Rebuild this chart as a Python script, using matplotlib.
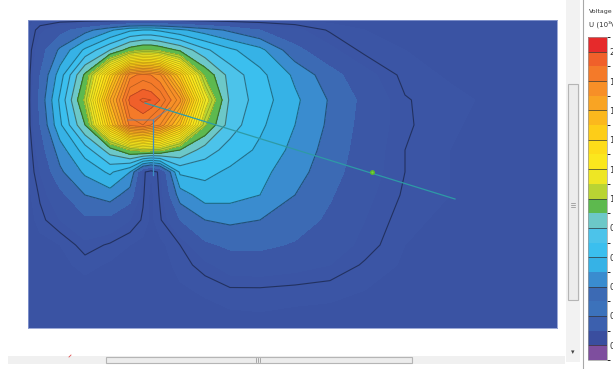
import numpy as np
import matplotlib
matplotlib.use("Agg")
import matplotlib.pyplot as plt
from matplotlib.patches import Rectangle
from matplotlib.lines import Line2D

# grid node positions (horizontal distance, depth)
x_pos = [0, 12, 32, 57, 82, 102, 115, 123, 132, 152, 177, 202, 232, 267, 302, 337, 377, 422, 472, 529]
y_pos = [0, 10, 30, 55, 80, 105, 130, 152, 175, 200, 225, 245, 270, 308]

# voltage at the nodes, one list per depth row
u_rows = [
    [0.09, 0.11, 0.12, 0.12, 0.12, 0.13, 0.13, 0.13, 0.13, 0.13, 0.12, 0.11, 0.10, 0.09, 0.08, 0.07, 0.06, 0.05, 0.04, 0.04],
    [0.10, 0.18, 0.26, 0.36, 0.48, 0.58, 0.60, 0.60, 0.58, 0.52, 0.45, 0.38, 0.30, 0.22, 0.14, 0.10, 0.08, 0.06, 0.05, 0.04],
    [0.11, 0.25, 0.42, 0.62, 0.80, 0.95, 1.00, 1.00, 0.97, 0.88, 0.72, 0.62, 0.53, 0.33, 0.22, 0.13, 0.10, 0.07, 0.05, 0.04],
    [0.12, 0.30, 0.55, 0.92, 1.40, 1.78, 1.82, 1.80, 1.76, 1.45, 0.98, 0.76, 0.63, 0.48, 0.34, 0.23, 0.13, 0.09, 0.06, 0.04],
    [0.12, 0.33, 0.62, 1.02, 1.60, 1.92, 1.96, 1.95, 1.90, 1.72, 1.16, 0.78, 0.65, 0.52, 0.39, 0.27, 0.155, 0.12, 0.08, 0.04],
    [0.12, 0.30, 0.58, 0.90, 1.45, 1.82, 1.85, 1.80, 1.75, 1.50, 1.01, 0.75, 0.62, 0.50, 0.38, 0.26, 0.16, 0.11, 0.07, 0.04],
    [0.10, 0.25, 0.45, 0.65, 0.85, 1.00, 1.05, 1.04, 1.03, 0.90, 0.75, 0.66, 0.58, 0.47, 0.36, 0.25, 0.15, 0.10, 0.07, 0.04],
    [0.10, 0.20, 0.38, 0.52, 0.62, 0.50, 0.17, 0.10, 0.17, 0.62, 0.63, 0.58, 0.53, 0.44, 0.34, 0.24, 0.15, 0.10, 0.06, 0.04],
    [0.08, 0.16, 0.27, 0.40, 0.45, 0.35, 0.16, 0.08, 0.16, 0.45, 0.55, 0.54, 0.50, 0.40, 0.31, 0.22, 0.14, 0.10, 0.06, 0.04],
    [0.06, 0.13, 0.20, 0.28, 0.27, 0.20, 0.14, 0.08, 0.14, 0.30, 0.40, 0.42, 0.40, 0.35, 0.28, 0.20, 0.12, 0.08, 0.05, 0.03],
    [0.05, 0.07, 0.10, 0.18, 0.14, 0.10, 0.08, 0.06, 0.08, 0.15, 0.28, 0.32, 0.32, 0.29, 0.24, 0.18, 0.10, 0.07, 0.05, 0.03],
    [0.04, 0.06, 0.08, 0.12, 0.09, 0.07, 0.06, 0.06, 0.07, 0.12, 0.18, 0.24, 0.25, 0.23, 0.20, 0.14, 0.09, 0.06, 0.04, 0.03],
    [0.04, 0.05, 0.06, 0.07, 0.07, 0.06, 0.05, 0.05, 0.06, 0.09, 0.11, 0.14, 0.14, 0.13, 0.12, 0.10, 0.07, 0.05, 0.04, 0.03],
    [0.03, 0.04, 0.04, 0.05, 0.05, 0.05, 0.04, 0.04, 0.04, 0.05, 0.06, 0.06, 0.07, 0.06, 0.06, 0.05, 0.05, 0.04, 0.03, 0.03],
]

# electrode wires and probe
wire_x = [117, 427]
wire_y = [83, 179]
rod_x = [125, 125]
rod_y = [100, 155]
tip_x = [100, 125, 142]
tip_y = [100, 100, 88]
probe_x = [344]
probe_y = [152]

cbar_ticks = [0.0, 0.2, 0.4, 0.6, 0.8, 1.0, 1.2, 1.4, 1.6, 1.8, 2.0]

# band colours, lowest first (below 0 .. above 2.0)
band_colors = [
    "#7e4e9e", "#3a53a3", "#3b55a5", "#3b57a6", "#3c6ab4", "#3a8ccf",
    "#36b2e6", "#3bbfee", "#4cc3ea", "#6cc8c8", "#5db94e", "#b9d433",
    "#eee624", "#fbe71d", "#fddc19", "#fdcd18", "#fbb81d", "#f9a423",
    "#f78f27", "#f47a29", "#f0602a", "#e62a2b",
]
# colour bar shows the bands a little more distinctly than the field
cbar_colors = list(band_colors)
cbar_colors[1:4] = ["#3a4e9f", "#3c60ae", "#3c72bb"]

fill_levels = np.round(np.arange(-0.1, 2.15, 0.1), 2)
outer_lines = [0.15, 0.4, 0.5, 0.6, 0.7, 0.8, 0.9]
inner_lines = list(np.round(np.arange(1.0, 1.96, 0.05), 2))

W, H = 613, 369
fig = plt.figure(figsize=(W / 100, H / 100), dpi=100)
fig.patch.set_facecolor("white")


def box(x0, y0, x1, y1):
    return [x0 / W, 1 - y1 / H, (x1 - x0) / W, (y1 - y0) / H]


ax = fig.add_axes(box(28, 20, 557, 328))
X, Y = np.meshgrid(x_pos, y_pos)
Z = np.array(u_rows)

ax.contourf(X, Y, Z, levels=fill_levels, colors=band_colors)


def dark(v, k):
    i = int(np.searchsorted(fill_levels, v, side="right")) - 1
    return tuple(np.array(matplotlib.colors.to_rgb(band_colors[max(i, 0)])) * k)


ax.contour(X, Y, Z, levels=outer_lines, colors=[dark(v, 0.58) for v in outer_lines], linewidths=0.8)
ax.contour(X, Y, Z, levels=inner_lines, colors=[dark(v, 0.72) for v in inner_lines], linewidths=0.5)

ax.plot(wire_x, wire_y, color="#2e9aa6", lw=0.9)
ax.plot(rod_x, rod_y, color="#3b8fc4", lw=0.9)
ax.plot(tip_x, tip_y, color="#5a7fa8", lw=0.7, alpha=0.8)
ax.plot(probe_x, probe_y, marker="o", ms=2.5, color="#7ad43a", mec="#5cb82a")

ax.set_xlim(0, 529)
ax.set_ylim(308, 0)
ax.set_xticks([])
ax.set_yticks([])
for s in ax.spines.values():
    s.set_color("#8a9ad0")
    s.set_linewidth(0.6)

# colour bar
cax = fig.add_axes(box(588, 37, 607, 360))
cb_cmap = matplotlib.colors.ListedColormap(cbar_colors)
cb_norm = matplotlib.colors.BoundaryNorm(fill_levels, cb_cmap.N)
sm = matplotlib.cm.ScalarMappable(cmap=cb_cmap, norm=cb_norm)
cb = fig.colorbar(sm, cax=cax, ticks=cbar_ticks, spacing="uniform")
cb.ax.set_yticklabels([f"{t:.1f}" for t in cbar_ticks])
cb.ax.tick_params(length=0, pad=1.5, labelsize=6, colors="#333333")
cb.outline.set_edgecolor("#9a9a9a")
cb.outline.set_linewidth(0.5)
for t in cbar_ticks:
    cax.axhline(t, color="#333333", lw=0.7, alpha=0.7)

fig.text(589 / W, 1 - 12 / H, "Voltage", fontsize=4.5, color="#333333", va="center")
fig.text(589 / W, 1 - 24 / H, "U (10³V)", fontsize=5, color="#333333", va="center")

# window chrome: scroll bars and separator
fig.patches.append(Rectangle((566 / W, 1 - 362 / H), 14 / W, 362 / H, transform=fig.transFigure,
                             facecolor="#f2f2f2", edgecolor="none"))
fig.patches.append(Rectangle((568 / W, 1 - 300 / H), 10 / W, 216 / H, transform=fig.transFigure,
                             facecolor="#ececec", edgecolor="#b5b5b5", lw=0.8))
for gy in [203, 205, 207]:
    fig.lines.append(Line2D([571 / W, 575 / W], [1 - gy / H] * 2, transform=fig.transFigure,
                            color="#8a8a8a", lw=0.5))
fig.text(573 / W, 1 - 352 / H, "▾", fontsize=5, color="#444444", ha="center", va="center")
fig.lines.append(Line2D([583 / W, 583 / W], [0, 1], transform=fig.transFigure, color="#a8a8a8", lw=0.8))

fig.patches.append(Rectangle((8 / W, 1 - 364 / H), 557 / W, 8 / H, transform=fig.transFigure,
                             facecolor="#f0f0f0", edgecolor="none"))
fig.patches.append(Rectangle((106 / W, 1 - 363 / H), 306 / W, 6 / H, transform=fig.transFigure,
                             facecolor="#ececec", edgecolor="#b5b5b5", lw=0.8))
for gx in [256, 258, 260]:
    fig.lines.append(Line2D([gx / W] * 2, [1 - 362 / H, 1 - 358 / H], transform=fig.transFigure,
                            color="#8a8a8a", lw=0.5))
fig.lines.append(Line2D([69 / W, 71 / W], [1 - 357 / H, 1 - 355 / H], transform=fig.transFigure,
                        color="#e05050", lw=0.6))

fig.savefig("out.png", dpi=100)
